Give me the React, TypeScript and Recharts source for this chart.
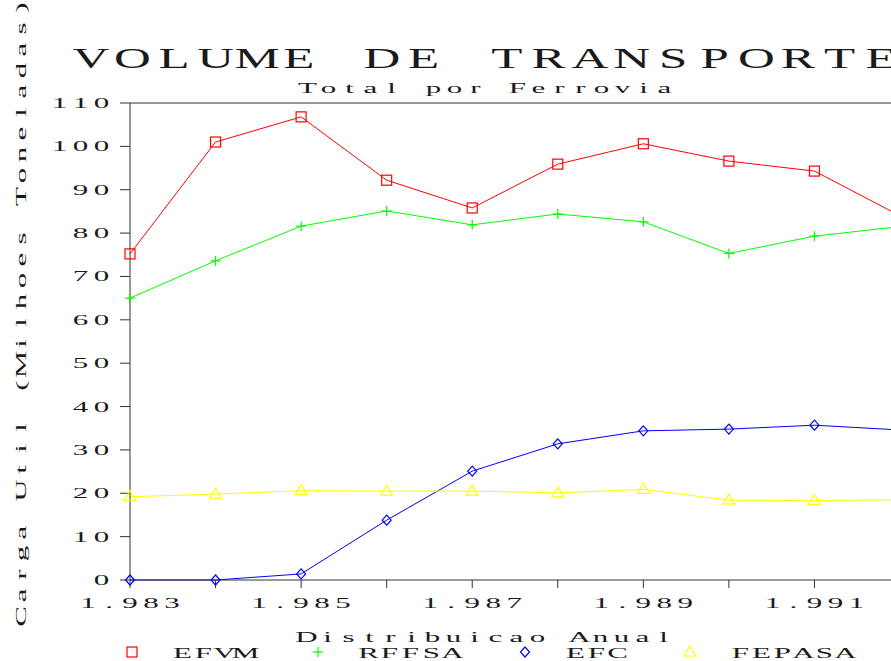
import React from 'react';
import { LineChart, Line, XAxis, YAxis, ReferenceLine } from 'recharts';

const years = [1983, 1984, 1985, 1986, 1987, 1988, 1989, 1990, 1991, 1992];
const xTickLabels = ['1.983', '', '1.985', '', '1.987', '', '1.989', '', '1.991', ''];
const yTicks = [0, 10, 20, 30, 40, 50, 60, 70, 80, 90, 100, 110];

const efvm = [75.2, 101.0, 106.8, 92.2, 85.8, 95.9, 100.6, 96.6, 94.3, 84.0];
const rffsa = [65.0, 73.6, 81.6, 85.1, 81.9, 84.4, 82.6, 75.3, 79.3, 81.5];
const efc = [0, 0, 1.4, 13.8, 25.1, 31.4, 34.4, 34.8, 35.7, 34.6];
const fepasa = [19.2, 19.8, 20.6, 20.5, 20.5, 20.1, 20.9, 18.4, 18.3, 18.5];

const seriesNames = ['EFVM', 'RFFSA', 'EFC', 'FEPASA'];
const seriesColors = ['#ff0000', '#00ff00', '#0000ff', '#ffff00'];
const seriesMarkers = ['square', 'plus', 'diamond', 'triangle'];

const titleText = 'VOLUME DE TRANSPORTE';
const subtitleText = 'Total por Ferrovia';
const xLabelText = 'Distribuicao Anual';
const yLabelText = 'Carga Util (Milhoes Toneladas)';

const data = years.map((year, i) => ({
  year,
  EFVM: efvm[i],
  RFFSA: rffsa[i],
  EFC: efc[i],
  FEPASA: fepasa[i],
}));

const FONT = "'Liberation Serif', 'DejaVu Serif', serif";
const ADV = 21;
const SMALL = 15.5;
const SX = 2.0;

// Monospaced-cell text: each character centred in its own cell, glyphs stretched horizontally.
const MonoText = ({ x, y, text, size, adv, sx, anchor = 'start', fill = '#1a1a1a' }: any) => {
  const total = text.length * adv;
  const left = anchor === 'middle' ? x - total / 2 : anchor === 'end' ? x - total : x;
  const xs = text.split('').map((_: string, i: number) => ((left + adv * (i + 0.5)) / sx).toFixed(2));
  return (
    <text
      x={xs.join(' ')}
      y={y}
      transform={`scale(${sx},1)`}
      textAnchor="middle"
      fontFamily={FONT}
      fontSize={size}
      fill={fill}
      style={{ whiteSpace: 'pre' }}
    >
      {text}
    </text>
  );
};

const Marker = ({ cx, cy, kind, color }: any) => {
  if (cx == null || cy == null) return <g />;
  if (kind === 'square') {
    return <rect x={cx - 5} y={cy - 5} width={10} height={10} fill="none" stroke={color} strokeWidth={1.2} />;
  }
  if (kind === 'plus') {
    return (
      <g stroke={color} strokeWidth={1.2}>
        <line x1={cx - 5} y1={cy} x2={cx + 5} y2={cy} />
        <line x1={cx} y1={cy - 5} x2={cx} y2={cy + 5} />
      </g>
    );
  }
  if (kind === 'diamond') {
    return (
      <polygon
        points={`${cx},${cy - 5} ${cx + 4.5},${cy} ${cx},${cy + 5} ${cx - 4.5},${cy}`}
        fill="none"
        stroke={color}
        strokeWidth={1.2}
      />
    );
  }
  return (
    <polygon
      points={`${cx},${cy - 6} ${cx + 6},${cy + 4} ${cx - 6},${cy + 4}`}
      fill="none"
      stroke={color}
      strokeWidth={1.2}
    />
  );
};

const XTick = (props: any) => {
  const { x, y, payload } = props;
  const idx = years.indexOf(payload.value);
  const label = xTickLabels[idx] || '';
  if (!label) return <g />;
  return <MonoText x={x} y={y + 18} text={label} size={SMALL} adv={ADV} sx={SX} anchor="middle" />;
};

const YTick = (props: any) => {
  const { x, y, payload } = props;
  return <MonoText x={x} y={y + 5} text={String(payload.value)} size={SMALL} adv={ADV} sx={SX} anchor="end" />;
};

const Legend = () => {
  const items: any[] = [];
  let mx = 132;
  seriesNames.forEach((name, i) => {
    const textX = mx + 40;
    items.push(
      <g key={name}>
        <Marker cx={mx} cy={652} kind={seriesMarkers[i]} color={seriesColors[i]} />
        <MonoText x={textX} y={658} text={name} size={SMALL} adv={ADV} sx={SX} />
      </g>
    );
    mx = textX + name.length * ADV + 62;
  });
  return <g>{items}</g>;
};

export default function App() {
  return (
    <div
      style={{
        position: 'fixed',
        left: 0,
        top: 0,
        width: 891,
        height: 661,
        overflow: 'hidden',
        background: '#fff',
      }}
    >
      <div style={{ position: 'absolute', left: 0, top: 0, width: 972, height: 661 }}>
        <LineChart
          width={972}
          height={661}
          data={data}
          margin={{ top: 103, right: 72, bottom: 51, left: 70 }}
        >
          <XAxis
            dataKey="year"
            height={30}
            tickSize={8}
            tickMargin={2}
            interval={0}
            tick={<XTick />}
            stroke="#333"
          />
          <YAxis
            width={60}
            domain={[0, 110]}
            ticks={yTicks}
            interval={0}
            tickSize={10}
            tickMargin={8}
            tick={<YTick />}
            stroke="#333"
          />
          <ReferenceLine y={110} stroke="#777" strokeWidth={1.5} />
          {seriesNames.map((name, i) => (
            <Line
              key={name}
              type="linear"
              dataKey={name}
              stroke={seriesColors[i]}
              strokeWidth={1}
              isAnimationActive={false}
              dot={(p: any) => (
                <Marker
                  key={`${name}-${p.index}`}
                  cx={p.cx}
                  cy={p.cy}
                  kind={seriesMarkers[i]}
                  color={seriesColors[i]}
                />
              )}
              activeDot={false}
            />
          ))}
        </LineChart>
      </div>
      <svg
        width={972}
        height={661}
        style={{ position: 'absolute', left: 0, top: 0, pointerEvents: 'none' }}
      >
        <MonoText x={486} y={68} text={titleText} size={30} adv={41.6} sx={1.7} anchor="middle" />
        <MonoText x={486} y={93} text={subtitleText} size={SMALL} adv={ADV} sx={SX} anchor="middle" />
        <MonoText x={485} y={642} text={xLabelText} size={SMALL} adv={ADV} sx={SX} anchor="middle" />
        <g transform="rotate(-90 26 312)">
          <MonoText x={26} y={312} text={yLabelText} size={SMALL} adv={ADV} sx={SX} anchor="middle" />
        </g>
        <Legend />
      </svg>
    </div>
  );
}
